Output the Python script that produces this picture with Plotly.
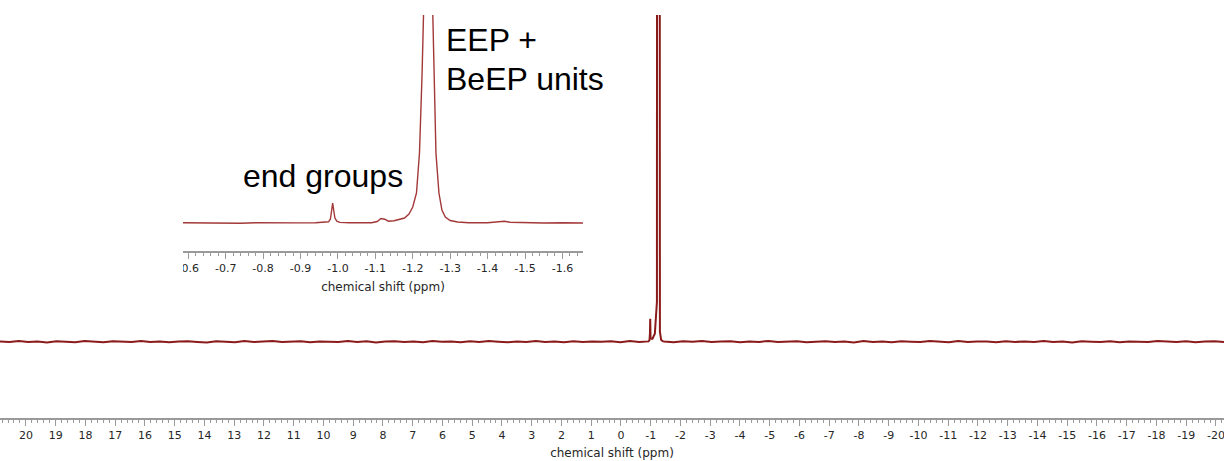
import numpy as np
import plotly.graph_objects as go

# ---------------- data ----------------
# Full 31P spectrum: flat baseline segments (typed noise) around the polymer signal
left_base_noise = [0.3, -0.4, 0.6, -0.2, 0.1, -0.7, 0.4, 0.2, -0.5, 0.7, -0.1, -0.6, 0.5, 0.0,
                   -0.3, 0.8, -0.4, 0.2, -0.6, 0.3, 0.5, -0.2, -0.7, 0.4, 0.1, -0.5, 0.6, -0.3,
                   0.2, 0.7, -0.4, -0.1, 0.5, -0.6, 0.3, 0.0, -0.4, 0.6, -0.2, 0.4, -0.7, 0.2,
                   0.5, -0.3, 0.1, -0.5, 0.7, -0.1, 0.3, -0.6, 0.4, -0.2, 0.6, 0.0, -0.5, 0.3,
                   -0.4, 0.7, -0.2, 0.1, -0.6, 0.5, -0.3, 0.2, -0.1, 0.4, -0.5, 0.6, -0.2, 0.3]
right_base_noise = [0.2, -0.5, 0.4, -0.1, 0.6, -0.4, 0.1, 0.5, -0.6, 0.3, -0.2, 0.7, -0.3, 0.0,
                    0.4, -0.6, 0.2, 0.5, -0.4, 0.1, -0.7, 0.6, -0.2, 0.3, -0.5, 0.4, 0.0, -0.3,
                    0.6, -0.1, -0.5, 0.7, -0.4, 0.2, 0.3, -0.6, 0.5, -0.2, 0.1, -0.4, 0.6, -0.3,
                    0.2, -0.7, 0.4, 0.0, -0.2, 0.5, -0.5, 0.3, 0.1, -0.4, 0.6, -0.1, -0.3, 0.4,
                    -0.6, 0.2, 0.5, -0.2]
left_base_span = (20.87, -0.93)
right_base_span = (-1.45, -20.27)

# Signal region of the full spectrum (ppm, intensity)
peak_ppm = [-0.96, -0.975, -0.985, -0.995, -1.03, -1.06, -1.14, -1.21, -1.245, -1.31, -1.35, -1.40]
peak_int = [1.5, 8.0, 23.0, 4.0, 3.0, 3.0, 8.0, 40.0, 5000.0, 10.0, 2.0, 0.5]

# Expansion of the -0.6 ... -1.65 ppm region
inset_ppm = [-0.586, -0.62, -0.66, -0.70, -0.74, -0.78, -0.82, -0.86, -0.90, -0.94, -0.96,
             -0.975, -0.980, -0.983, -0.986, -0.989, -0.992, -0.997, -1.005, -1.03, -1.06,
             -1.09, -1.105, -1.115, -1.125, -1.135, -1.15, -1.165, -1.178, -1.19, -1.20,
             -1.21, -1.218, -1.225, -1.232, -1.240, -1.248, -1.255, -1.262, -1.270, -1.278,
             -1.287, -1.30, -1.32, -1.35, -1.40, -1.43, -1.445, -1.46, -1.50, -1.55, -1.60,
             -1.655]
inset_int = [0.2, 0.0, 0.3, 0.1, -0.2, 0.2, 0.0, 0.3, 0.1, 0.2, 0.4,
             1.2, 4.0, 11.0, 20.0, 12.0, 5.0, 1.8, 0.6, 0.2, 0.0,
             0.3, 1.5, 4.5, 3.8, 1.8, 2.2, 4.0, 5.0, 9.0, 16.0,
             30.0, 70.0, 150.0, 280.0, 380.0, 300.0, 170.0, 70.0, 30.0, 13.0,
             6.0, 2.5, 1.0, 0.3, 0.2, 1.2, 1.8, 0.8, 0.2, 0.0, 0.3,
             0.0]

main_tick_vals = list(range(20, -21, -1))
main_tick_text = [str(v) for v in main_tick_vals]
inset_tick_vals = [-0.6, -0.7, -0.8, -0.9, -1.0, -1.1, -1.2, -1.3, -1.4, -1.5, -1.6]
inset_tick_text = ["-0.6", "-0.7", "-0.8", "-0.9", "-1.0", "-1.1", "-1.2", "-1.3", "-1.4", "-1.5", "-1.6"]

x_title = "chemical shift (ppm)"
label_units = ["EEP +", "BeEP units"]
label_end = "end groups"

# ---------------- assemble full trace ----------------
left_x = np.linspace(left_base_span[0], left_base_span[1], len(left_base_noise))
right_x = np.linspace(right_base_span[0], right_base_span[1], len(right_base_noise))
main_x = np.concatenate([left_x, peak_ppm, right_x])
main_y = np.concatenate([left_base_noise, peak_int, right_base_noise])

# ---------------- layout geometry ----------------
W, H = 1224, 461
M_T, M_B = 15, 43
PLOT_H = H - M_T - M_B


def pyf(row):
    """pixel row -> paper y fraction"""
    return (H - M_B - row) / PLOT_H


def pxf(col):
    return col / W


AX_GREY = "#9a9a9a"
TXT_GREY = "#262626"
tick_font = dict(family="DejaVu Sans", size=11, color=TXT_GREY)
title_font = dict(family="DejaVu Sans", size=12, color=TXT_GREY)

fig = go.Figure()
fig.add_trace(go.Scatter(x=main_x, y=main_y, mode="lines",
                         line=dict(color="#8B1A1A", width=2),
                         xaxis="x", yaxis="y", hoverinfo="skip"))
fig.add_trace(go.Scatter(x=inset_ppm, y=inset_int, mode="lines",
                         line=dict(color="#A33838", width=1.4),
                         xaxis="x2", yaxis="y2", hoverinfo="skip"))

common_x = dict(showline=True, linecolor=AX_GREY, linewidth=1.5, ticks="outside",
                tickcolor=AX_GREY, tickwidth=1, ticklen=6, showgrid=False, zeroline=False,
                tickmode="array", ticklabeloverflow="allow", automargin=False,
                tickfont=tick_font)

fig.update_layout(
    width=W, height=H, template="none",
    margin=dict(l=0, r=0, t=M_T, b=M_B, pad=0),
    paper_bgcolor="white", plot_bgcolor="rgba(0,0,0,0)",
    showlegend=False,
    xaxis=dict(domain=[0, 1], range=[20.87, -20.27], anchor="y",
               tickvals=main_tick_vals, ticktext=main_tick_text,
               minor=dict(dtick=0.2, tick0=0, ticks="outside", ticklen=3,
                          tickcolor=AX_GREY, showgrid=False),
               title=dict(text=x_title, font=title_font, standoff=8),
               **common_x),
    yaxis=dict(domain=[0, 1], range=[-76.3, 326.7], visible=False),
    xaxis2=dict(domain=[pxf(183), pxf(583)], range=[-0.586, -1.655], anchor="y2",
                tickvals=inset_tick_vals, ticktext=inset_tick_text,
                minor=dict(dtick=0.02, tick0=0, ticks="outside", ticklen=3,
                           tickcolor=AX_GREY, showgrid=False),
                title=dict(text=x_title, font=title_font, standoff=9),
                **common_x),
    yaxis2=dict(domain=[pyf(251), 1], range=[-28, 208], anchor="x2", visible=False),
)

# white panel trimming the inset's first tick label at the inset frame
fig.add_shape(type="rect", xref="paper", yref="paper",
              x0=pxf(0), x1=pxf(183), y0=pyf(282), y1=pyf(254),
              fillcolor="white", line=dict(width=0), layer="above")

ann_font = dict(family="Liberation Sans", size=32, color="black")
fig.add_annotation(text=label_units[0], xref="paper", yref="paper",
                   x=pxf(444), y=pyf(40), xanchor="left", yanchor="middle",
                   showarrow=False, font=ann_font)
fig.add_annotation(text=label_units[1], xref="paper", yref="paper",
                   x=pxf(444), y=pyf(79), xanchor="left", yanchor="middle",
                   showarrow=False, font=ann_font)
fig.add_annotation(text=label_end, xref="paper", yref="paper",
                   x=pxf(241), y=pyf(176), xanchor="left", yanchor="middle",
                   showarrow=False, font=ann_font)

fig.write_html("out.html")
